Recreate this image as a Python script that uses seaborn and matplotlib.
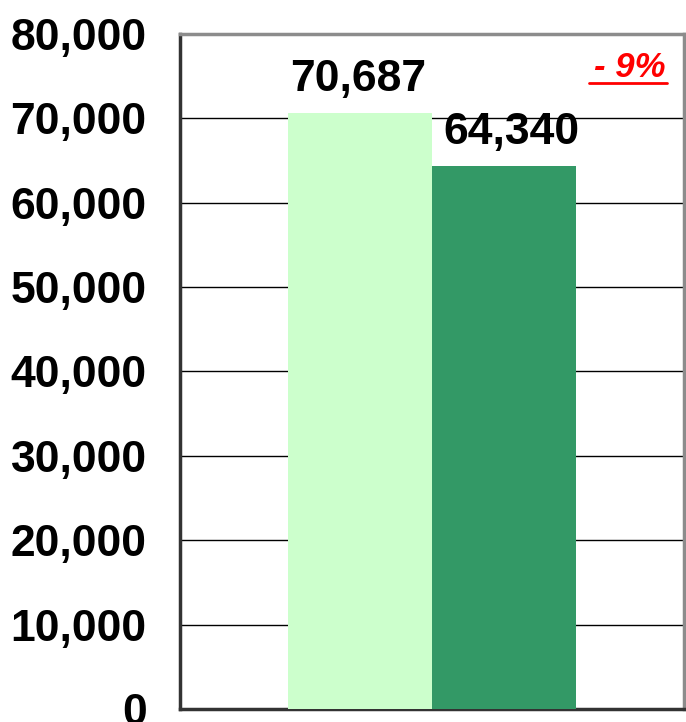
import pandas as pd
import matplotlib.pyplot as plt
import seaborn as sns
from matplotlib.lines import Line2D

# Chart data
periods = ['Previous', 'Current']
values = [70687, 64340]
bar_colors = ['#CCFFCC', '#339966']
y_ticks = [0, 10000, 20000, 30000, 40000, 50000, 60000, 70000, 80000]
change_label = '- 9%'

df = pd.DataFrame({'group': ['all', 'all'], 'period': periods, 'value': values})

sns.set_style('white')
plt.rcParams['font.family'] = ['Liberation Sans', 'DejaVu Sans']
plt.rcParams['text.color'] = 'black'
plt.rcParams['ytick.color'] = 'black'

fig = plt.figure(figsize=(6.86, 7.22), dpi=100)
ax = fig.add_axes([0.2624, 0.018, 0.7346, 0.935])

sns.barplot(data=df, x='group', y='value', hue='period',
            palette=bar_colors, width=0.573, dodge=True,
            saturation=1, legend=False, ax=ax, zorder=3,
            edgecolor='none', linewidth=0)

ax.set_xlim(-0.5, 0.5)
ax.set_ylim(0, 80000)
ax.set_yticks(y_ticks)
ax.set_yticklabels([f'{v:,}' for v in y_ticks], fontsize=32,
                   fontweight='bold', color='black')
ax.set_xticks([])
ax.set_xlabel('')
ax.set_ylabel('')
ax.tick_params(axis='y', length=0, pad=24)

# horizontal gridlines
ax.yaxis.grid(True, color='black', linewidth=1)
ax.set_axisbelow(True)

for side in ['top', 'right']:
    ax.spines[side].set_color('#8c8c8c')
    ax.spines[side].set_linewidth(2.5)
for side in ['left', 'bottom']:
    ax.spines[side].set_color('#333333')
    ax.spines[side].set_linewidth(2.5)

# value labels above bars
offsets = [-0.004, 0.014]
for patch, v, dx in zip(ax.patches, values, offsets):
    ax.text(patch.get_x() + patch.get_width() / 2 + dx, v + 2600, f'{v:,}',
            ha='center', va='baseline', fontsize=32, fontweight='bold',
            color='black')

# percentage change, red italic underlined
ax.text(0.893, 0.951, change_label, transform=ax.transAxes, ha='center',
        va='center', fontsize=25, fontweight='bold', fontstyle='italic',
        color='red')
ax.add_line(Line2D([0.812, 0.966], [0.928, 0.928], transform=ax.transAxes,
                   color='red', linewidth=2))

plt.savefig('out.png', dpi=100)
